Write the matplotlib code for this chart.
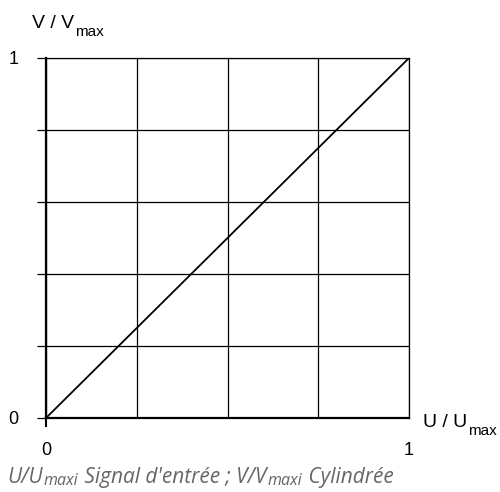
import numpy as np
import matplotlib.pyplot as plt

# normalised command signal vs normalised displacement
u_ratio = [0.0, 1.0]
v_ratio = [0.0, 1.0]

x_grid = [0.25, 0.5, 0.75]
y_ticks = [0.0, 0.2, 0.4, 0.6, 0.8, 1.0]
y_labels = ["0", "", "", "", "", "1"]
x_ticks = [0.0, 1.0]
x_labels = ["0", "1"]

# caption pieces: (text, size, baseline shift in px)
caption_parts = [
    ("U/U", 15, 0),
    ("maxi", 11.5, -2),
    (" Signal d'entrée ; V/V", 15, 0),
    ("maxi", 11.5, -2),
    (" Cylindrée", 15, 0),
]

plt.rcParams['font.family'] = ['Liberation Sans', 'DejaVu Sans']

W, H = 500, 492
fig = plt.figure(figsize=(W / 100, H / 100), dpi=100)
ax = fig.add_axes([46 / W, 1 - 418 / H, 363 / W, 360 / H])

ax.plot(u_ratio, v_ratio, color='black', lw=1.3, zorder=3)

ax.set_xlim(0, 1)
ax.set_ylim(0, 1)

ax.set_xticks(x_ticks)
ax.set_xticklabels(x_labels, fontsize=13)
ax.set_xticks(x_grid, minor=True)
ax.set_yticks(y_ticks)
ax.set_yticklabels(y_labels, fontsize=13)

ax.tick_params(axis='x', which='major', direction='out', length=6.5, width=1.5, pad=11)
ax.tick_params(axis='x', which='minor', length=0)
ax.tick_params(axis='y', direction='out', length=6.5, width=0.9, pad=13.5)
ax.xaxis.get_major_ticks()[1].tick1line.set_visible(False)

ax.grid(True, which='both', color='black', lw=0.9)

for side in ['left', 'bottom']:
    ax.spines[side].set_linewidth(1.6)
for side in ['top', 'right']:
    ax.spines[side].set_linewidth(0.9)

renderer = fig.canvas.get_renderer()


def put_parts(x_px, base_px, parts, **kw):
    # lay text pieces side by side on a common baseline (pixel coords from top-left)
    x = x_px
    for txt, size, shift in parts:
        t = fig.text(x / W, 1 - (base_px - shift) / H, txt, fontsize=size,
                     ha='left', va='baseline', **kw)
        x += t.get_window_extent(renderer).width + 1


put_parts(32, 28, [("V / V", 14, 0), ("max", 11, -8)])
put_parts(423, 427, [("U / U", 14, 0), ("max", 11, -8)])

put_parts(7, 483, caption_parts, family='Open Sans', style='italic', color='#666666')

fig.savefig('out.png', dpi=100)
